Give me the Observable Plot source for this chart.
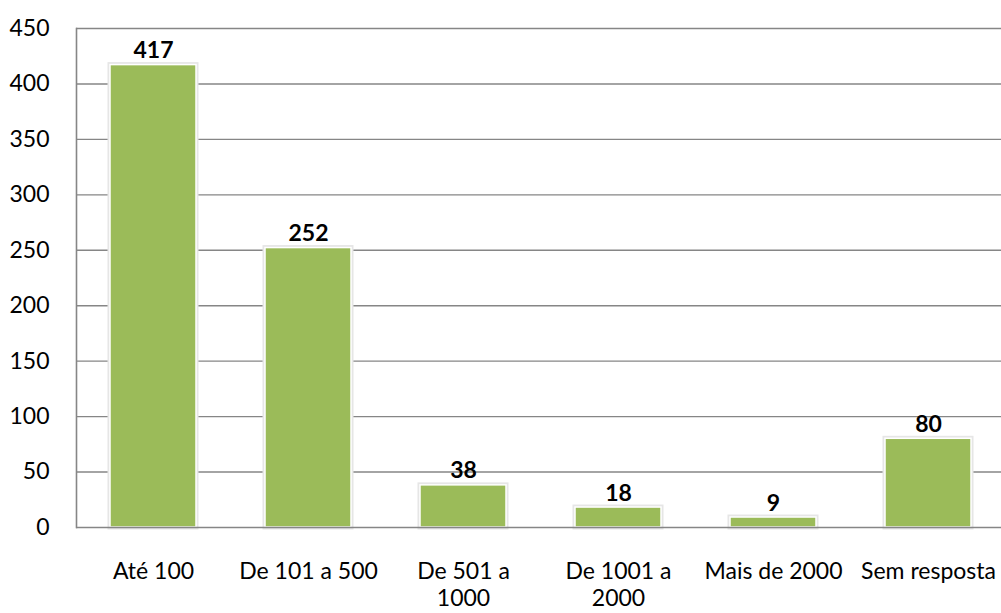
<!DOCTYPE html>
<html>
<head>
<meta charset="utf-8">
<script src="https://cdn.jsdelivr.net/npm/d3@7"></script>
<script src="https://cdn.jsdelivr.net/npm/@observablehq/plot@0.6"></script>
<style>
  html, body { margin: 0; padding: 0; background: #fff; overflow: hidden; }
  #chart svg { display: block; }
</style>
</head>
<body>
<div id="chart"></div>
<script>
const categories = ["Até 100", "De 101 a 500", "De 501 a 1000", "De 1001 a 2000", "Mais de 2000", "Sem resposta"];
const tickLabels = ["Até 100", "De 101 a 500", "De 501 a\n1000", "De 1001 a\n2000", "Mais de 2000", "Sem resposta"];
const values = [417, 252, 38, 18, 9, 80];
const yTicks = [0, 50, 100, 150, 200, 250, 300, 350, 400, 450];

const data = categories.map((c, i) => ({category: c, value: values[i]}));
const labelOf = new Map(categories.map((c, i) => [c, tickLabels[i]]));

const chart = Plot.plot({
  width: 1001,
  height: 613,
  marginTop: 28,
  marginBottom: 86,
  marginLeft: 76,
  marginRight: 0,
  style: {fontFamily: "Lato, 'Liberation Sans', sans-serif", fontSize: "23px", color: "#000", background: "#fff"},
  x: {domain: categories, range: [75.5, 1005.5], paddingInner: 0.445, paddingOuter: 0.2225, label: null},
  y: {domain: [0, 450], ticks: yTicks, label: null},
  marks: [
    Plot.gridY(yTicks.filter(d => d > 0), {stroke: "#868686", strokeOpacity: 1, strokeWidth: 1.4}),
    Plot.barY(data, {x: "category", y: "value", fill: "none", stroke: "#e6e6e6", strokeWidth: 5}),
    Plot.barY(data, {x: "category", y: "value", fill: "#9BBB59", stroke: "#fff", strokeWidth: 1.5}),
    Plot.ruleY([0], {stroke: "#868686", strokeWidth: 1.6}),
    Plot.frame({anchor: "left", stroke: "#868686", strokeWidth: 1.6}),
    Plot.text(data, {x: "category", y: "value", text: d => String(d.value), dy: -7, lineAnchor: "bottom", fontWeight: "bold", fontSize: 23, fill: "#000"}),
    Plot.axisY({ticks: yTicks, tickSize: 0, tickPadding: 27, fontSize: 23, label: null}),
    Plot.axisX({tickSize: 0, tickPadding: 32, fontSize: 23, lineHeight: 1.17, tickFormat: d => labelOf.get(d), label: null})
  ]
});
document.getElementById("chart").appendChild(chart);
</script>
</body>
</html>
